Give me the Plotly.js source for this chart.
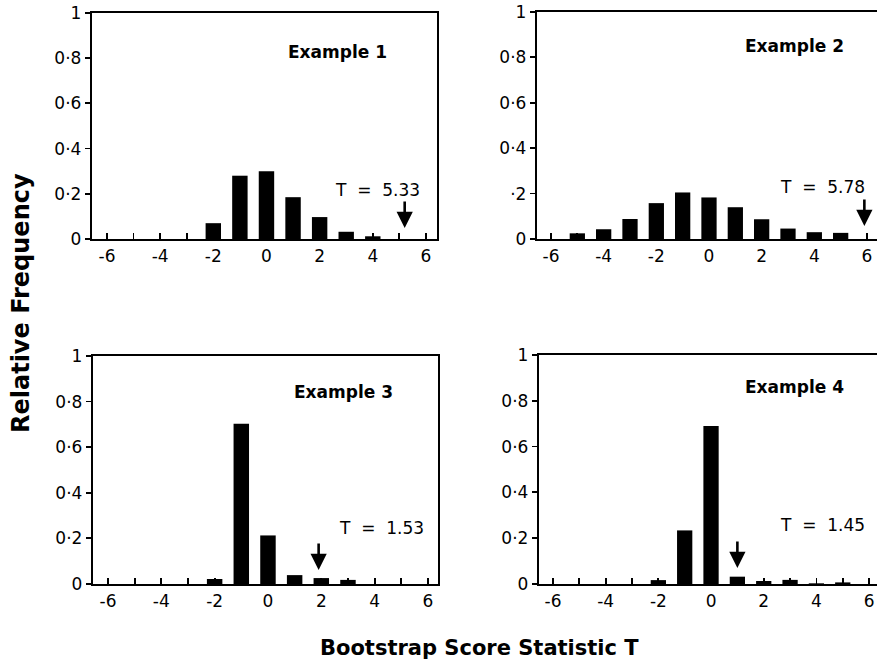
<!DOCTYPE html>
<html><head><meta charset="utf-8">
<script src="https://cdn.plot.ly/plotly-3.0.1.min.js"></script>
<style>html,body{margin:0;padding:0;background:#fff}</style>
</head><body><div id="chart" style="width:877px;height:665px"></div>
<script>
// ---- data ----
const scoreT = [-6,-5,-4,-3,-2,-1,0,1,2,3,4,5,6];
const freq1 = [0,0,0,0,0.070,0.280,0.300,0.185,0.097,0.032,0.012,0,0];
const freq2 = [0,0.025,0.043,0.088,0.158,0.205,0.183,0.140,0.087,0.046,0.030,0.027,0];
const freq3 = [0,0,0,0,0.022,0.703,0.213,0.039,0.026,0.018,0,0,0];
const freq4 = [0,0,0,0,0.017,0.234,0.690,0.032,0.013,0.018,0.003,0.007,0];
const exampleLabels = ["Example 1","Example 2","Example 3","Example 4"];
const observedT = ["5.33","5.78","1.53","1.45"];
const arrowAt = [5.2, 5.9, 1.9, 1.0];
const xTickVals = [-6,-5,-4,-3,-2,-1,0,1,2,3,4,5,6];
const xTickText = ["-6","","-4","","-2","","0","","2","","4","","6"];
const yTickVals = [0,0.2,0.4,0.6,0.8,1];
const yTickText = ["0","0·2","0·4","0·6","0·8","1"];
const yTickText2 = ["0","·2","0·4","0·6","0·8","1"];
const yTitle = "Relative Frequency";
const xTitle = "Bootstrap Score Statistic T";

// ---- layout geometry ----
const series = [freq1, freq2, freq3, freq4];
const panels = [
  {xd:[0.1049,0.4983], yd:[0.6406,0.9805], xr:[-6.564,6.416], mirrorY:true,  yt:yTickText,
   ex:[2.68,0.827], tx:[4.19,0.217], tip:0.049},
  {xd:[0.6123,1.0],    yd:[0.6406,0.9820], xr:[-6.532,6.38],  mirrorY:false, yt:yTickText2,
   ex:[3.24,0.85],  tx:[4.30,0.23],  tip:0.057},
  {xd:[0.1060,0.4994], yd:[0.1218,0.4647], xr:[-6.5625,6.375],mirrorY:true,  yt:yTickText,
   ex:[2.85,0.842], tx:[4.24,0.246], tip:0.061},
  {xd:[0.6146,1.0],    yd:[0.1218,0.4662], xr:[-6.53,6.30],   mirrorY:false, yt:yTickText,
   ex:[3.15,0.86],  tx:[4.25,0.258], tip:0.07}
];
const tickFont = {family:"DejaVu Sans", size:17, color:"#000"};
const traces = [];
const layout = {
  width:877, height:665, margin:{l:0,r:0,t:0,b:0},
  paper_bgcolor:"#fff", plot_bgcolor:"#fff", showlegend:false,
  annotations:[]
};
panels.forEach((p,i)=>{
  const n = i+1, xa = n===1?"x":"x"+n, ya = n===1?"y":"y"+n;
  traces.push({type:"bar", x:scoreT, y:series[i], xaxis:xa, yaxis:ya,
    width:0.58, marker:{color:"#000", line:{width:0}}, hoverinfo:"skip"});
  layout["xaxis"+(n===1?"":n)] = {domain:p.xd, range:p.xr, anchor:ya,
    showline:true, linewidth:2.2, linecolor:"#000", mirror:true,
    ticks:"inside", ticklen:6, tickwidth:1.8, tickcolor:"#000",
    tickmode:"array", tickvals:xTickVals, ticktext:xTickText, tickfont:tickFont,
    showgrid:false, zeroline:false, fixedrange:true};
  layout["yaxis"+(n===1?"":n)] = {domain:p.yd, range:[0,1], anchor:xa,
    showline:true, linewidth:2.2, linecolor:"#000", mirror:p.mirrorY,
    ticks:"outside", ticklen:5, tickwidth:1.8, tickcolor:"#000",
    tickmode:"array", tickvals:yTickVals, ticktext:p.yt, tickfont:tickFont,
    showgrid:false, zeroline:false, fixedrange:true};
  layout.annotations.push({xref:xa, yref:ya, x:p.ex[0], y:p.ex[1], text:exampleLabels[i],
    showarrow:false, xanchor:"center", yanchor:"middle",
    font:{family:"DejaVu Sans", size:17, color:"#000", weight:"bold"}});
  layout.annotations.push({xref:xa, yref:ya, x:p.tx[0], y:p.tx[1], text:"T\u00a0\u00a0=\u00a0\u00a0"+observedT[i],
    showarrow:false, xanchor:"center", yanchor:"middle",
    font:{family:"DejaVu Sans", size:17, color:"#000"}});
  layout.annotations.push({xref:xa, yref:ya, x:arrowAt[i], y:p.tip, text:"",
    showarrow:true, ax:0, ay:-28, arrowhead:2, arrowsize:1.25, arrowwidth:2.6, arrowcolor:"#000", standoff:0});
});
layout.annotations.push({xref:"paper", yref:"paper", x:0.024, y:0.5444, text:yTitle,
  textangle:-90, showarrow:false, xanchor:"center", yanchor:"middle",
  font:{family:"DejaVu Sans", size:24, color:"#000", weight:"bold"}});
layout.annotations.push({xref:"paper", yref:"paper", x:0.547, y:0.0256, text:xTitle,
  showarrow:false, xanchor:"center", yanchor:"middle",
  font:{family:"DejaVu Sans", size:21, color:"#000", weight:"bold"}});
Plotly.newPlot("chart", traces, layout, {displayModeBar:false, staticPlot:true});
</script></body></html>
